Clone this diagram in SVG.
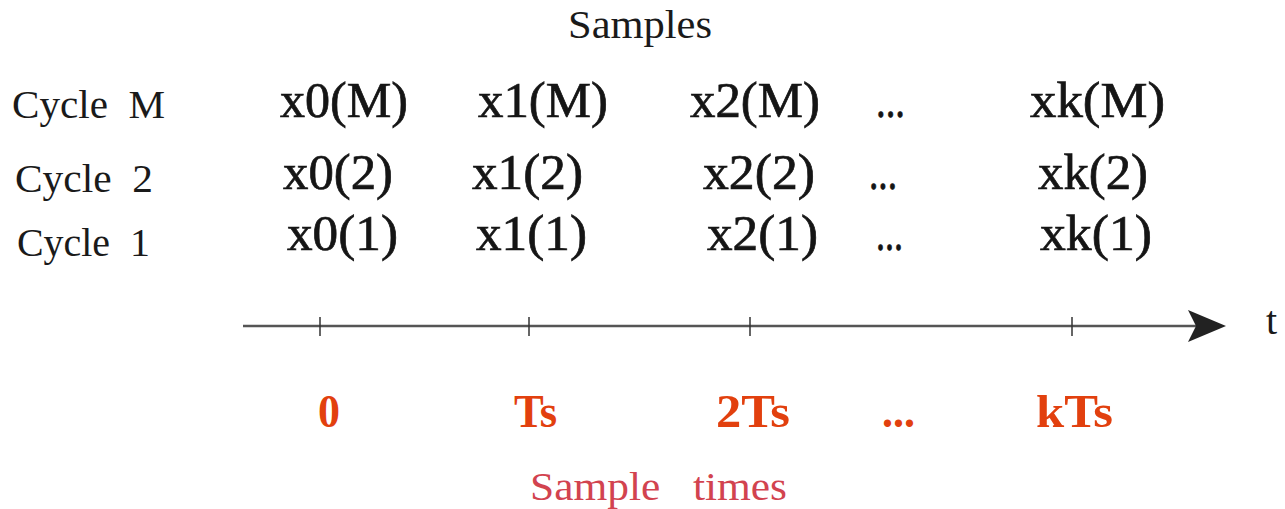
<svg xmlns="http://www.w3.org/2000/svg" width="1285" height="509" viewBox="0 0 1285 509">
<style>
text{font-family:"Liberation Serif","Times New Roman",Times,serif;}
.lbl{font-size:40px;fill:#1a1a1a;}
.smp{font-size:50px;fill:#151515;stroke:#151515;stroke-width:0.7;}
.tm{font-size:47px;font-weight:bold;fill:#e2400e;}
.axis{stroke:#555;stroke-width:2.5;fill:none;}
.tick{stroke:#333;stroke-width:1.5;}
</style>
<rect width="1285" height="509" fill="#fff"/>
<text x="568" y="38" class="lbl" font-size="39" textLength="144" lengthAdjust="spacingAndGlyphs">Samples</text>
<g id="rowlabels">
<text x="12" y="118" class="lbl" textLength="153" lengthAdjust="spacingAndGlyphs" xml:space="preserve">Cycle  M</text>
<text x="15" y="192" class="lbl" textLength="138" lengthAdjust="spacingAndGlyphs" xml:space="preserve">Cycle  2</text>
<text x="17" y="256" class="lbl" textLength="133" lengthAdjust="spacingAndGlyphs" xml:space="preserve">Cycle  1</text>
</g>
<g id="samplesM">
<text x="280" y="117" class="smp" textLength="128" lengthAdjust="spacingAndGlyphs">x0(M)</text>
<text x="478" y="117" class="smp" textLength="130" lengthAdjust="spacingAndGlyphs">x1(M)</text>
<text x="690" y="117" class="smp" textLength="130" lengthAdjust="spacingAndGlyphs">x2(M)</text>
<text x="876" y="117" class="smp" textLength="29" lengthAdjust="spacingAndGlyphs">...</text>
<text x="1030" y="117" class="smp" textLength="135" lengthAdjust="spacingAndGlyphs">xk(M)</text>
</g>
<g id="samples2">
<text x="283" y="189" class="smp" textLength="110" lengthAdjust="spacingAndGlyphs">x0(2)</text>
<text x="472" y="189" class="smp" textLength="111" lengthAdjust="spacingAndGlyphs">x1(2)</text>
<text x="703" y="189" class="smp" textLength="112" lengthAdjust="spacingAndGlyphs">x2(2)</text>
<text x="869" y="189" class="smp" textLength="28" lengthAdjust="spacingAndGlyphs">...</text>
<text x="1038" y="189" class="smp" textLength="110" lengthAdjust="spacingAndGlyphs">xk(2)</text>
</g>
<g id="samples1">
<text x="287" y="250" class="smp" textLength="111" lengthAdjust="spacingAndGlyphs">x0(1)</text>
<text x="476" y="250" class="smp" textLength="111" lengthAdjust="spacingAndGlyphs">x1(1)</text>
<text x="707" y="250" class="smp" textLength="111" lengthAdjust="spacingAndGlyphs">x2(1)</text>
<text x="876" y="250" class="smp" textLength="27" lengthAdjust="spacingAndGlyphs">...</text>
<text x="1040" y="250" class="smp" textLength="112" lengthAdjust="spacingAndGlyphs">xk(1)</text>
</g>
<g id="axis">
<line x1="243" y1="326" x2="1200" y2="326" class="axis"/>
<polygon points="1188,310 1226,326 1188,342 1196,326" fill="#222"/>
<line x1="320" y1="317" x2="320" y2="336" class="tick"/>
<line x1="529" y1="317" x2="529" y2="336" class="tick"/>
<line x1="750" y1="317" x2="750" y2="336" class="tick"/>
<line x1="1072" y1="317" x2="1072" y2="336" class="tick"/>
<text x="1266" y="334" class="lbl" font-size="44">t</text>
</g>
<g id="times">
<text x="318" y="427" class="tm" textLength="22" lengthAdjust="spacingAndGlyphs">0</text>
<text x="514" y="427" class="tm" textLength="43" lengthAdjust="spacingAndGlyphs">Ts</text>
<text x="716" y="427" class="tm" textLength="74" lengthAdjust="spacingAndGlyphs">2Ts</text>
<text x="882" y="427" class="tm" textLength="33" lengthAdjust="spacingAndGlyphs">...</text>
<text x="1036" y="427" class="tm" textLength="77" lengthAdjust="spacingAndGlyphs">kTs</text>
</g>
<text x="530" y="500" font-size="40" fill="#d2434f" textLength="257" lengthAdjust="spacingAndGlyphs" xml:space="preserve">Sample   times</text>
</svg>
